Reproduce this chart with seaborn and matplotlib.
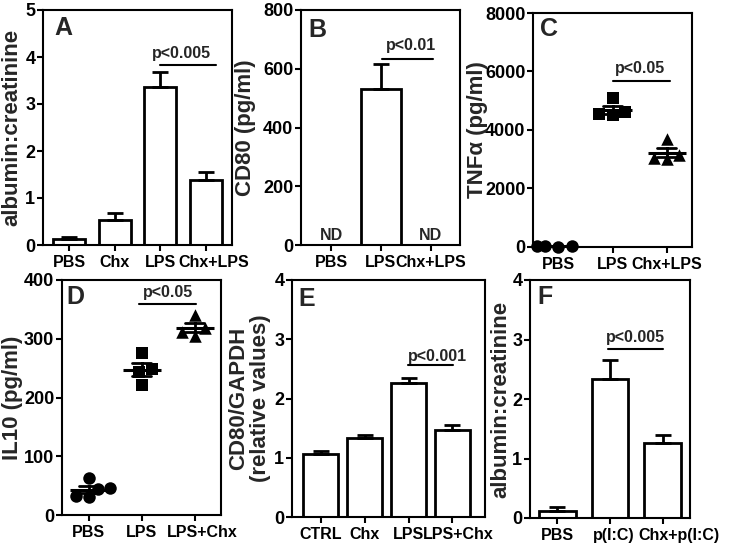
import numpy as np
import pandas as pd
import matplotlib
matplotlib.use('Agg')
import matplotlib.pyplot as plt
import matplotlib.transforms as mtransforms
import seaborn as sns

# panel A - albumin:creatinine (bars, mean + SEM)
a_groups = ['PBS', 'Chx', 'LPS', 'Chx+LPS']
a_mean = [0.12, 0.53, 3.37, 1.38]
a_sem = [0.06, 0.15, 0.32, 0.17]

# panel B - CD80 (ND = not detected)
b_groups = ['PBS', 'LPS', 'Chx+LPS']
b_mean = [np.nan, 530, np.nan]
b_sem = [np.nan, 85, np.nan]

# panel C - TNFa individual animals
c_groups = ['PBS', 'LPS', 'Chx+LPS']
tnf_pbs = [20, 30, 15, 25]
tnf_lps = [5100, 4550, 4500, 4600]
tnf_chx_lps = [3700, 3150, 3050, 3000]

# panel D - IL10 individual animals
d_groups = ['PBS', 'LPS', 'LPS+Chx']
il10_pbs = [63, 46, 44, 33, 30]
il10_lps = [275, 248, 243, 222]
il10_lps_chx = [340, 318, 312, 305]

# panel E - CD80/GAPDH
e_groups = ['CTRL', 'Chx', 'LPS', 'LPS+Chx']
e_mean = [1.07, 1.33, 2.27, 1.46]
e_sem = [0.04, 0.06, 0.07, 0.10]

# panel F - albumin:creatinine after p(I:C)
f_groups = ['PBS', 'p(I:C)', 'Chx+p(I:C)']
f_mean = [0.12, 2.33, 1.26]
f_sem = [0.06, 0.33, 0.13]

sns.set_style('ticks')
plt.rcParams['font.family'] = ['Liberation Sans', 'DejaVu Sans']
plt.rcParams['font.weight'] = 'bold'
plt.rcParams['axes.labelweight'] = 'bold'
plt.rcParams['axes.linewidth'] = 1.5
plt.rcParams['xtick.major.width'] = 1.5
plt.rcParams['ytick.major.width'] = 1.5
plt.rcParams['xtick.major.size'] = 4
plt.rcParams['ytick.major.size'] = 4
plt.rcParams['ytick.major.pad'] = 1.5
plt.rcParams['xtick.labelsize'] = 11.5
plt.rcParams['ytick.labelsize'] = 13
plt.rcParams['xtick.color'] = 'black'
plt.rcParams['ytick.color'] = 'black'
plt.rcParams['axes.edgecolor'] = 'black'

W, H = 743, 546
fig = plt.figure(figsize=(W / 100, H / 100), dpi=100)


def make_ax(l, t, r, b):
    return fig.add_axes([l / W, (H - b) / H, (r - l) / W, (b - t) / H])


def bar_panel(ax, groups, mean, sem, width):
    sns.barplot(x=groups, y=mean, order=groups, color='white', saturation=1,
                edgecolor='black', linewidth=2, width=width, errorbar=None, ax=ax)
    n = len(groups)
    ax.errorbar(np.arange(n), mean, yerr=[np.zeros(n), sem], fmt='none',
                ecolor='black', elinewidth=2, capsize=6, capthick=2, zorder=1)


def dot_panel(ax, groups, values, markers):
    for g, v, m in zip(groups, values, markers):
        sns.swarmplot(x=[g] * len(v), y=v, order=groups, marker=m, size=9,
                      color='black', ax=ax, clip_on=False)
    df = pd.DataFrame({'group': np.repeat(groups, [len(v) for v in values]),
                       'val': np.concatenate(values)})
    sns.pointplot(data=df, x='group', y='val', order=groups, errorbar='se',
                  capsize=0.35, color='black', linestyle='none', markers='_',
                  markersize=27, markeredgewidth=2.2,
                  err_kws={'linewidth': 2}, ax=ax)


def bracket(ax, x1, x2, y, text, ty, tx):
    ax.plot([x1, x2], [y, y], color='black', lw=1.5)
    ax.text(tx, ty, text, ha='center', va='bottom', fontsize=11.5, fontweight='bold')


def shift_label(ax, idx, px):
    lab = ax.get_xticklabels()[idx]
    lab.set_transform(lab.get_transform() + mtransforms.ScaledTranslation(px / 100, 0, fig.dpi_scale_trans))


def finish(ax, ymax, step, xlim, letter, lx, ly, ylabel, labx):
    ax.set_ylim(0, ymax)
    ax.set_yticks(np.arange(0, ymax + step / 2, step))
    ax.set_xlim(*xlim)
    ax.set_xlabel('')
    ax.set_ylabel(ylabel, fontsize=16, linespacing=1.0)
    ax.yaxis.label.set_va('center')
    ax.yaxis.set_label_coords(labx, 0.5)
    ax.text(lx, ly, letter, transform=ax.transAxes, va='top', ha='left',
            fontsize=18, fontweight='bold')
    for s in ax.spines.values():
        s.set_visible(True)
        s.set_linewidth(1.5)


# A
ax = make_ax(43, 10, 232, 245)
bar_panel(ax, a_groups, a_mean, a_sem, 0.7)
bracket(ax, 2.0, 3.22, 3.83, 'p<0.005', 3.92, 2.47)
finish(ax, 5, 1, (-0.57, 3.57), 'A', 0.06, 0.975, 'albumin:creatinine', -0.165)
shift_label(ax, 3, 8)

# B
ax = make_ax(301, 10, 460, 245)
bar_panel(ax, b_groups, b_mean, b_sem, 0.82)
for i, v in enumerate(b_mean):
    if np.isnan(v):
        ax.text(i, 8, 'ND', ha='center', va='bottom', fontsize=11.5, fontweight='bold')
bracket(ax, 1.03, 2.05, 633, 'p<0.01', 655, 1.6)
finish(ax, 800, 200, (-0.61, 2.59), 'B', 0.045, 0.965, 'CD80 (pg/ml)', -0.35)

# C
ax = make_ax(533, 13, 692, 247)
dot_panel(ax, c_groups, [tnf_pbs, tnf_lps, tnf_chx_lps], ['o', 's', '^'])
bracket(ax, 1.0, 2.07, 5670, 'p<0.05', 5850, 1.51)
finish(ax, 8000, 2000, (-0.47, 2.47), 'C', 0.045, 0.985, 'TNF\u03b1 (pg/ml)', -0.35)

# D
ax = make_ax(62, 280, 221, 515)
dot_panel(ax, d_groups, [il10_pbs, il10_lps, il10_lps_chx], ['o', 's', '^'])
bracket(ax, 0.96, 2.02, 359, 'p<0.05', 366, 1.5)
finish(ax, 400, 100, (-0.5, 2.5), 'D', 0.03, 0.98, 'IL10 (pg/ml)', -0.31)
shift_label(ax, 2, 8)

# E
ax = make_ax(292, 280, 485, 517)
bar_panel(ax, e_groups, e_mean, e_sem, 0.8)
bracket(ax, 1.99, 3.01, 2.57, 'p<0.001', 2.58, 2.65)
finish(ax, 4, 1, (-0.65, 3.74), 'E', 0.035, 0.97, 'CD80/GAPDH\n(relative values)', -0.22)
shift_label(ax, 3, 6)

# F
ax = make_ax(530, 280, 690, 518)
bar_panel(ax, f_groups, f_mean, f_sem, 0.69)
bracket(ax, 0.96, 2.01, 2.84, 'p<0.005', 2.9, 1.48)
finish(ax, 4, 1, (-0.52, 2.52), 'F', 0.045, 0.98, 'albumin:creatinine', -0.18)
shift_label(ax, 1, 4)
shift_label(ax, 2, 16)

fig.savefig('out.png', dpi=100)
